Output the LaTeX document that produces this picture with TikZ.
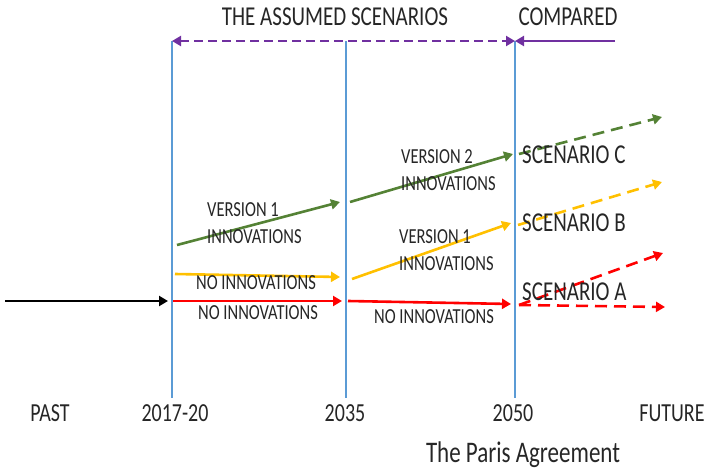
\documentclass[tikz,border=0pt]{standalone}
\usepackage{fontspec}
\setmainfont{Carlito}
\usepackage{graphicx}
\usepackage{tikz}
\usetikzlibrary{arrows.meta,positioning}
\definecolor{gridblue}{HTML}{5B9BD5}
\definecolor{vgreen}{HTML}{548235}
\definecolor{vyellow}{HTML}{FFC000}
\definecolor{vred}{HTML}{FF0000}
\definecolor{vpurple}{HTML}{7030A0}
\definecolor{inkgray}{HTML}{262626}
\newcommand{\tall}[1]{\scalebox{1}[1.3]{#1}}

\begin{document}
\begin{tikzpicture}[
  x=1pt, y=-1pt,
  lbl/.style={inner sep=0pt, align=left, text=inkgray,
    font=\fontsize{16.5}{27}\selectfont},
  scen/.style={inner sep=0pt, anchor=west, text=inkgray,
    font=\fontsize{21}{25}\selectfont},
  yr/.style={inner sep=0pt, text=inkgray, font=\fontsize{20}{24}\selectfont},
  vline/.style={gridblue, line width=1.6pt},
  ar/.style={-{Triangle[length=9pt,width=10pt]}, line width=2.6pt},
  dar/.style={ar, dash pattern=on 12pt off 7pt}
]
\useasboundingbox (0,0) rectangle (710,471);

% ==================== TIMELINE ====================
\coordinate (t1) at (172,41);
\coordinate (t2) at (346,41);
\coordinate (t3) at (515,41);
\coordinate (b1) at (172,398);
\coordinate (b2) at (346,398);
\coordinate (b3) at (515,398);
\draw[vline] (t1) -- (b1);
\draw[vline] (t2) -- (b2);
\draw[vline] (t3) -- (b3);

\node[yr] (past) at (50,413) {\tall{PAST}};
\node[yr] (yr1) at (175,413) {\tall{2017-20}};
\node[yr] (yr2) at (345,413) {\tall{2035}};
\node[yr] (yr3) at (513,413) {\tall{2050}};
\node[yr] (future) at (672,413) {\tall{FUTURE}};
\node[yr, anchor=base, font=\fontsize{23}{27}\selectfont] (paris) at (523,462) {\tall{The Paris Agreement}};

% ==================== HEADINGS ====================
\node[yr, font=\fontsize{21}{25}\selectfont] (assumed) at (335,17) {\tall{THE ASSUMED SCENARIOS}};
\node[yr, font=\fontsize{21}{25}\selectfont] (compared) at (568,17) {\tall{COMPARED}};
\coordinate (cmp) at (615,41);
\draw[vpurple, {Triangle[length=9pt,width=10pt]}-{Triangle[length=9pt,width=10pt]},
  line width=2.6pt, dash pattern=on 9pt off 5pt] (t1) -- (t3);
\draw[vpurple, ar] (cmp) -- (t3);

% ==================== PATHS ====================
\coordinate (k0) at (5,301);
\coordinate (k1) at (168,301);
\draw[ar, black] (k0) -- (k1);

\coordinate (r1s) at (173,301);
\coordinate (r1e) at (342,301);
\coordinate (r2s) at (348,301);
\coordinate (r2e) at (511,304);
\coordinate (r3s) at (519,305);
\coordinate (r3e) at (665,307);
\coordinate (r4e) at (663,253);
\draw[ar, vred] (r1s) -- (r1e);
\draw[ar, vred] (r2s) -- (r2e);
\draw[dar, vred] (r3s) -- (r3e);
\draw[dar, vred] (r3s) -- (r4e);

\coordinate (y1s) at (175,274);
\coordinate (y1e) at (340,277);
\coordinate (y2s) at (352,279);
\coordinate (y2e) at (511,223);
\coordinate (y3s) at (518,225);
\coordinate (y3e) at (662,182);
\draw[ar, vyellow] (y1s) -- (y1e);
\draw[ar, vyellow] (y2s) -- (y2e);
\draw[dar, vyellow] (y3s) -- (y3e);

\coordinate (g1s) at (177,245);
\coordinate (g1e) at (340,202);
\coordinate (g2s) at (350,202);
\coordinate (g2e) at (513,154);
\coordinate (g3s) at (519,154);
\coordinate (g3e) at (662,117);
\draw[ar, vgreen] (g1s) -- (g1e);
\draw[ar, vgreen] (g2s) -- (g2e);
\draw[dar, vgreen] (g3s) -- (g3e);

% ==================== LABELS ====================
\node[lbl, anchor=west] (ver1a) at (207,223) {\tall{VERSION 1}\\\tall{INNOVATIONS}};
\node[lbl] (noinno_y) at (256,283) {\tall{NO INNOVATIONS}};
\node[lbl] (noinno_r1) at (258,313) {\tall{NO INNOVATIONS}};
\node[lbl, anchor=west] (ver2) at (401,170) {\tall{VERSION 2}\\\tall{INNOVATIONS}};
\node[lbl, anchor=west] (ver1b) at (399,250) {\tall{VERSION 1}\\\tall{INNOVATIONS}};
\node[lbl] (noinno_r2) at (434,317) {\tall{NO INNOVATIONS}};

\node[scen] (scen_c) at (522,155) {\tall{SCENARIO C}};
\node[scen] (scen_b) at (522,223) {\tall{SCENARIO B}};
\node[scen] (scen_a) at (522,292) {\tall{SCENARIO A}};

\end{tikzpicture}
\end{document}
